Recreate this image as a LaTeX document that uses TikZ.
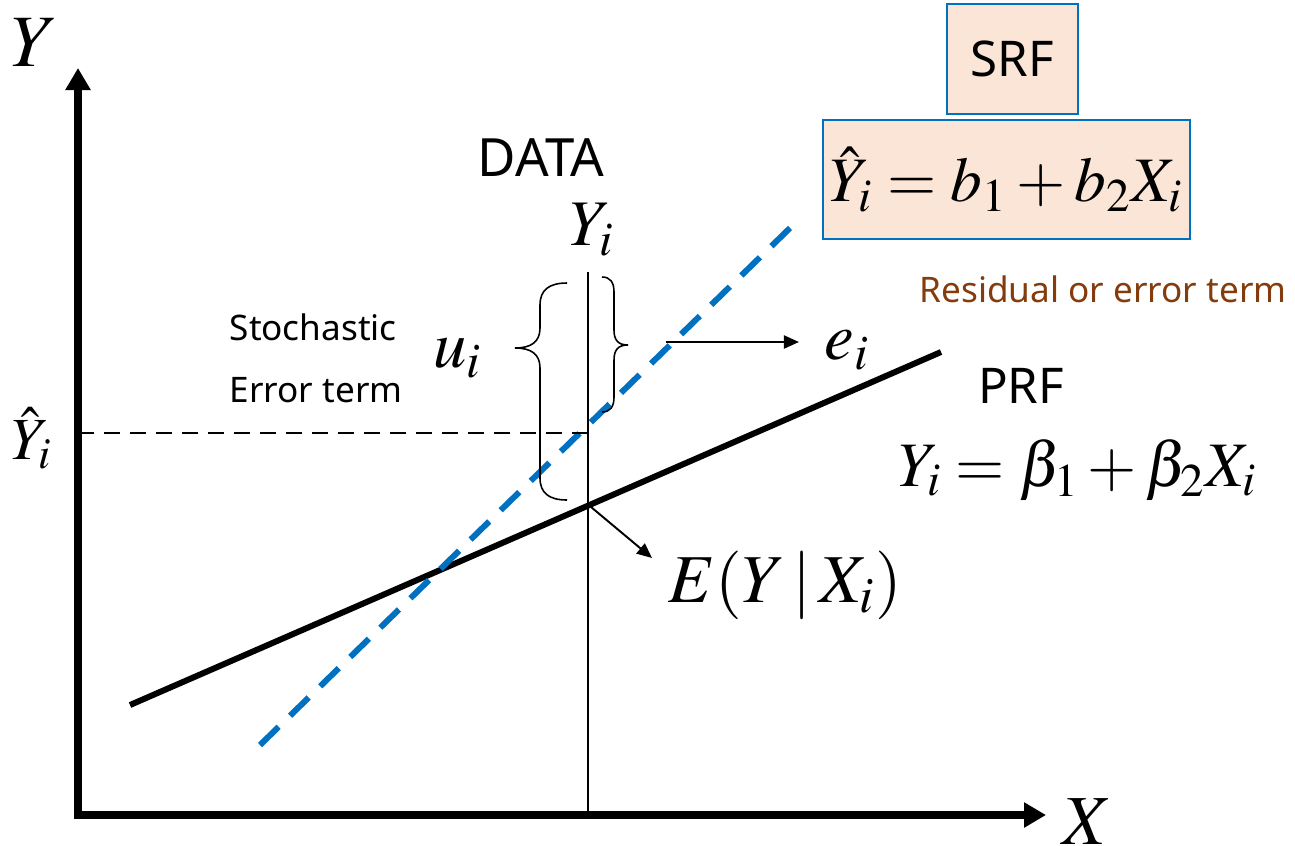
\documentclass[tikz,border=0pt]{standalone}
\usepackage{mathptmx}
\usepackage{fontspec}
\newfontfamily\labelfont{Noto Sans}
\usepackage{tikz}
\usetikzlibrary{positioning,arrows.meta}
\definecolor{srfblue}{RGB}{0,112,192}
\definecolor{srffill}{RGB}{251,229,214}
\definecolor{residcol}{RGB}{132,60,12}
\newcommand{\fs}[1]{\fontsize{#1}{#1}\selectfont}

\begin{document}
\begin{tikzpicture}[
  x=0.01cm, y=-0.01cm,
  axis/.style={line width=2.3pt, -{Triangle[length=2.2mm, width=2.4mm]}},
  prf/.style={line width=1.7pt, line cap=butt},
  srf/.style={line width=1.7pt, draw=srfblue, dash pattern=on 2.6mm off 1.6mm},
  guide/.style={line width=0.45pt, dash pattern=on 1.6mm off 1mm},
  thin/.style={line width=0.45pt},
  pointer/.style={line width=0.55pt, -{Triangle[length=1.5mm, width=1.3mm]}},
  mathlbl/.style={inner sep=0pt},
  sanslbl/.style={inner sep=0pt, font=\labelfont\fs{10}},
  eqbox/.style={draw=srfblue, fill=srffill, line width=0.6pt, inner sep=0pt},
]
\useasboundingbox (0,0) rectangle (1295,845);

% ---------- axes ----------
\coordinate (origin) at (78,815);
\coordinate (ytip) at (78,68);
\coordinate (xtip) at (1046,815);
\draw[axis] ([yshift=-0.04cm]origin) -- (ytip);
\draw[axis] ([xshift=-0.04cm]origin) -- (xtip);
\node[mathlbl, font=\fs{21}] (ylbl) at (35,43) {$Y$};
\node[mathlbl, font=\fs{20}] (xlbl) at (1087,822) {$X$};

% ---------- PRF and SRF lines ----------
\coordinate (prfA) at (130,705);
\coordinate (prfB) at (941,352);
\coordinate (srfA) at (260,745);
\coordinate (srfB) at (790,228);
\draw[prf] (prfA) -- (prfB);
\draw[srf] (srfA) -- (srfB);

% ---------- the observation X_i ----------
\coordinate (obsTop) at (588,272);
\coordinate (obsFoot) at (588,815);
\coordinate (ehat) at (588,433);
\coordinate (eyx) at (591,507);
\draw[thin] (obsTop) -- (obsFoot);
\node[mathlbl, font=\fs{17}] (yhatlbl) at (32,438) {$\hat{Y}_i$};
\draw[guide] (ehat) -- (82,433);

% ---------- braces ----------
\draw[thin] (567,283) .. controls (549,283) and (540,290) .. (540,305) -- (540,328)
  .. controls (540,342) and (531,348) .. (515,348)
  .. controls (531,348) and (540,354) .. (540,368) -- (540,478)
  .. controls (540,493) and (549,500) .. (567,500);
\draw[thin] (602,277) .. controls (610,277) and (614,282) .. (614,292) -- (614,330)
  .. controls (614,340) and (618,345) .. (628,345)
  .. controls (618,345) and (614,350) .. (614,360) -- (614,397)
  .. controls (614,407) and (610,412) .. (602,412);

% ---------- labels round the observation ----------
\node[sanslbl, font=\labelfont\fs{15}] (data) at (541,158) {DATA};
\node[mathlbl, font=\fs{18.5}] (yobs) at (592,230) {$Y_i$};
\node[mathlbl, font=\fs{19}] (ui) at (458,358) {$u_i$};
\node[sanslbl, anchor=west] (stoch) at (229,327) {Stochastic};
\node[sanslbl, anchor=west] (errterm) at (229,390) {Error term};

\coordinate (estart) at (666,342);
\node[mathlbl, font=\fs{19}, anchor=west] (ei) at (824,350) {$e_i$};
\draw[pointer] (estart) -- ([xshift=-0.25cm]ei.west |- estart);

\node[mathlbl, font=\fs{19.5}] (cond) at (785,585) {$E(Y\,|\,X_i)$};
\draw[pointer] (eyx) -- (652,558);

% ---------- SRF ----------
\node[eqbox, minimum width=3.67cm, minimum height=1.19cm] (srfeq) at (1006.5,179.5)
  {\fs{18}$\hat{Y}_i = b_1 + b_2X_i$};
\node[eqbox, minimum width=1.31cm, minimum height=1.10cm, above=0.04cm of srfeq.north, anchor=south,
      xshift=0.06cm, font=\labelfont\fs{14}] (srf) {SRF};
\node[sanslbl, text=residcol] (resid) at (1103,289) {Residual or error term};

% ---------- PRF ----------
\node[sanslbl, font=\labelfont\fs{14}] (prflbl) at (1021,386) {PRF};
\node[mathlbl, font=\fs{18}] (prfeq) at (1078,470) {$Y_i = \beta_1 + \beta_2X_i$};

\end{tikzpicture}
\end{document}
